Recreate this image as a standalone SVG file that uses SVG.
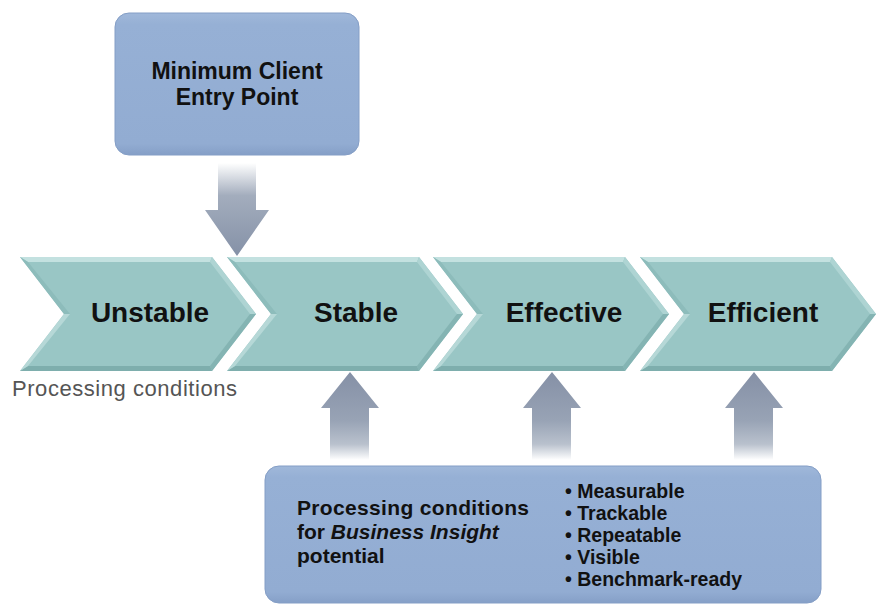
<svg xmlns="http://www.w3.org/2000/svg" xmlns:xlink="http://www.w3.org/1999/xlink" width="876" height="604" viewBox="0 0 876 604">
  <style>
    .lbl { font-family: "Liberation Sans", Arial, sans-serif; font-weight: bold; fill: #111; }
    .stage { font-size: 28px; text-anchor: middle; }
    .boxtxt { font-size: 21px; }
    .bul { font-size: 19.5px; }
    .note { font-family: "Liberation Sans", Arial, sans-serif; font-size: 22px; fill: #555; }
    .box { stroke: #849ec6; stroke-width: 1; }
  </style>
  <defs>
    <linearGradient id="boxFill" x1="0" y1="0" x2="0" y2="1">
      <stop offset="0" stop-color="#a0b8da"/>
      <stop offset="0.08" stop-color="#96b0d5"/>
      <stop offset="0.92" stop-color="#92acd2"/>
      <stop offset="1" stop-color="#859fc7"/>
    </linearGradient>
    <linearGradient id="downFill" gradientUnits="userSpaceOnUse" x1="0" y1="163" x2="0" y2="256">
      <stop offset="0" stop-color="#ffffff"/>
      <stop offset="0.35" stop-color="#a3adbd"/>
      <stop offset="1" stop-color="#8591a7"/>
    </linearGradient>
    <linearGradient id="upFill" gradientUnits="userSpaceOnUse" x1="0" y1="372" x2="0" y2="460">
      <stop offset="0" stop-color="#8590a6"/>
      <stop offset="0.55" stop-color="#98a3b5"/>
      <stop offset="0.82" stop-color="#b9c1cd"/>
      <stop offset="1" stop-color="#ffffff"/>
    </linearGradient>
    <!-- bevelled chevron, left edge at x=0 -->
    <g id="chev">
      <polygon points="0,257 192,257 236,314 192,371 0,371 44,314" fill="#99c6c5"/>
      <polygon points="0,257 192,257 190,262 8,262" fill="#c3e1e0"/>
      <polygon points="192,257 236,314 230,314 190,262" fill="#aed4d3"/>
      <polygon points="236,314 192,371 190,366 230,314" fill="#84b4b3"/>
      <polygon points="192,371 0,371 8,366 190,366" fill="#7eaead"/>
      <polygon points="0,371 44,314 50,314 8,366" fill="#b6d8d7"/>
      <polygon points="44,314 0,257 8,262 50,314" fill="#8dbcbb"/>
    </g>
  </defs>

  <rect width="876" height="604" fill="#ffffff"/>

  <!-- connectors -->
  <g id="connectors">
    <polygon id="arrow-entry" points="218,163 256,163 256,210 269,210 237,256 205,210 218,210" fill="url(#downFill)"/>
    <polygon id="arrow-stable" points="330,460 330,408 321,408 350,372 379,408 369,408 369,460" fill="url(#upFill)"/>
    <polygon id="arrow-effective" points="532,460 532,408 523,408 552,372 581,408 571,408 571,460" fill="url(#upFill)"/>
    <polygon id="arrow-efficient" points="734,460 734,408 725,408 754,372 783,408 773,408 773,460" fill="url(#upFill)"/>
  </g>

  <!-- entry point box -->
  <g id="node-entry">
    <rect class="box" x="115" y="13" width="244" height="142" rx="14" fill="url(#boxFill)"/>
    <text class="lbl" x="237" y="79" font-size="23" text-anchor="middle">Minimum Client</text>
    <text class="lbl" x="237" y="105" font-size="23" text-anchor="middle">Entry Point</text>
  </g>

  <!-- maturity stages -->
  <g id="node-unstable">
    <use xlink:href="#chev" x="20"/>
    <text class="lbl stage" x="150" y="322">Unstable</text>
  </g>
  <g id="node-stable">
    <use xlink:href="#chev" x="227"/>
    <text class="lbl stage" x="356" y="322">Stable</text>
  </g>
  <g id="node-effective">
    <use xlink:href="#chev" x="433"/>
    <text class="lbl stage" x="564" y="322">Effective</text>
  </g>
  <g id="node-efficient">
    <use xlink:href="#chev" x="640"/>
    <text class="lbl stage" x="763" y="322">Efficient</text>
  </g>

  <text id="caption" class="note" x="12" y="396" textLength="225">Processing conditions</text>

  <!-- business insight box -->
  <g id="node-insight">
    <rect class="box" x="265" y="466" width="556" height="137" rx="14" fill="url(#boxFill)"/>
    <text class="lbl boxtxt" x="297" y="515" textLength="232">Processing conditions</text>
    <text class="lbl boxtxt" x="297" y="539">for <tspan font-style="italic">Business Insight</tspan></text>
    <text class="lbl boxtxt" x="297" y="563">potential</text>
    <g class="lbl bul">
      <text x="565" y="498">• Measurable</text>
      <text x="565" y="520">• Trackable</text>
      <text x="565" y="542">• Repeatable</text>
      <text x="565" y="564">• Visible</text>
      <text x="565" y="586">• Benchmark-ready</text>
    </g>
  </g>
</svg>
